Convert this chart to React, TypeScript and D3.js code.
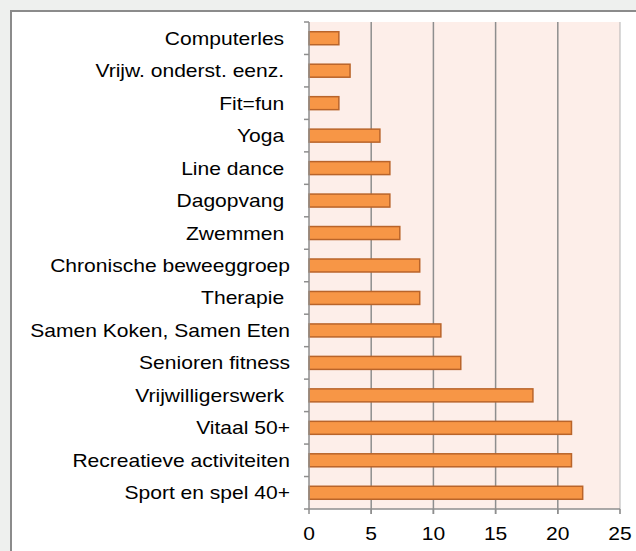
import { useRef, useEffect } from "react";
import * as d3 from "d3";

// top to bottom, as in the chart (trailing spaces kept from the source labels)
const categories = [
    "Computerles ",
    "Vrijw. onderst. eenz. ",
    "Fit=fun ",
    "Yoga ",
    "Line dance ",
    "Dagopvang ",
    "Zwemmen ",
    "Chronische beweeggroep",
    "Therapie ",
    "Samen Koken, Samen Eten",
    "Senioren fitness",
    "Vrijwilligerswerk ",
    "Vitaal 50+",
    "Recreatieve activiteiten",
    "Sport en spel 40+",
];
const values = [2.4, 3.3, 2.4, 5.7, 6.5, 6.5, 7.3, 8.9, 8.9, 10.6, 12.2, 18.0, 21.1, 21.1, 22.0];
const xTicks = [0, 5, 10, 15, 20, 25];

export default function App() {
    const svgRef = useRef<SVGSVGElement | null>(null);
    const width = 636;
    const height = 551;

    useEffect(() => {
        if (!svgRef.current) return;
        const svg = d3.select(svgRef.current);
        svg.selectAll("*").remove();

        const margin = { top: 22, right: 16, bottom: 42, left: 309 };
        const font = "Liberation Sans, Arial, sans-serif";
        const stretch = 1.17; // source text is drawn a bit wide

        // page background and framed box
        svg.append("rect").attr("width", width).attr("height", height).attr("fill", "#eef0ee");
        svg.append("rect")
            .attr("x", 11).attr("y", 11)
            .attr("width", width + 20).attr("height", height + 20)
            .attr("fill", "#fff")
            .attr("stroke", "#8b8b8b")
            .attr("stroke-width", 2);

        const x = d3.scaleLinear().domain([0, 25]).range([margin.left, width - margin.right]);
        const y = d3.scaleBand().domain(categories).range([margin.top, height - margin.bottom]).paddingInner(0.6).paddingOuter(0.3);
        const yEdge = d3.scaleBand().domain(categories).range([margin.top, height - margin.bottom]);

        // plot area
        svg.append("rect")
            .attr("x", x(0)).attr("y", margin.top)
            .attr("width", x(25) - x(0)).attr("height", height - margin.bottom - margin.top)
            .attr("fill", "#fdeee9");

        // vertical gridlines
        svg.append("g")
            .selectAll("line")
            .data(xTicks.slice(1))
            .enter()
            .append("line")
            .attr("x1", d => x(d)).attr("x2", d => x(d))
            .attr("y1", margin.top).attr("y2", height - margin.bottom + 5)
            .attr("stroke", d => (d === 25 ? "#b3b3b3" : "#8e8e8e"))
            .attr("stroke-width", d => (d === 25 ? 1 : 1.5));

        // bars
        svg.append("g")
            .selectAll("rect")
            .data(values)
            .enter()
            .append("rect")
            .attr("x", x(0))
            .attr("y", (_, i) => y(categories[i])!)
            .attr("width", d => x(d) - x(0))
            .attr("height", y.bandwidth())
            .attr("fill", "#f79646")
            .attr("stroke", "#b9642a")
            .attr("stroke-width", 1.5);

        // y axis: line + ticks at category edges
        const yAxis = svg.append("g");
        yAxis.append("line")
            .attr("x1", x(0)).attr("x2", x(0))
            .attr("y1", margin.top).attr("y2", height - margin.bottom)
            .attr("stroke", "#8e8e8e").attr("stroke-width", 1.5);
        const edges = categories.map(c => yEdge(c)!).concat([height - margin.bottom]);
        yAxis.selectAll(".tick")
            .data(edges)
            .enter()
            .append("line")
            .attr("x1", x(0) - 5).attr("x2", x(0))
            .attr("y1", d => d).attr("y2", d => d)
            .attr("stroke", "#8e8e8e").attr("stroke-width", 1.5);
        yAxis.selectAll("text")
            .data(categories)
            .enter()
            .append("text")
            .attr("transform", d => `translate(290,${yEdge(d)! + yEdge.bandwidth() / 2}) scale(${stretch},1)`)
            .attr("dy", "0.36em")
            .attr("text-anchor", "end")
            .style("white-space", "pre")
            .attr("font-family", font)
            .attr("font-size", 18)
            .attr("fill", "#000")
            .text(d => d);

        // x axis
        const xAxis = svg.append("g");
        xAxis.append("line")
            .attr("x1", x(0)).attr("x2", x(25))
            .attr("y1", height - margin.bottom).attr("y2", height - margin.bottom)
            .attr("stroke", "#8e8e8e").attr("stroke-width", 1.5);
        xAxis.selectAll(".tick")
            .data(xTicks)
            .enter()
            .append("line")
            .attr("x1", d => x(d)).attr("x2", d => x(d))
            .attr("y1", height - margin.bottom).attr("y2", height - margin.bottom + 5)
            .attr("stroke", "#8e8e8e").attr("stroke-width", 1.5);
        xAxis.selectAll("text")
            .data(xTicks)
            .enter()
            .append("text")
            .attr("transform", d => `translate(${x(d)},540) scale(${stretch},1)`)
            .attr("text-anchor", "middle")
            .attr("font-family", font)
            .attr("font-size", 18)
            .attr("fill", "#000")
            .text(d => d);
    }, []);

    return (
        <svg ref={svgRef} width={width} height={height} style={{ position: "absolute", left: 0, top: 0 }} />
    );
}
